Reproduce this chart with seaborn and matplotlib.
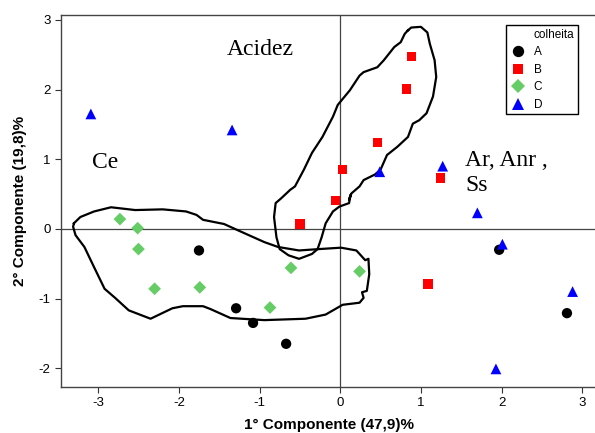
import pandas as pd
import matplotlib
matplotlib.use('Agg')
import matplotlib.pyplot as plt
from matplotlib.lines import Line2D
import seaborn as sns

# scores dos dois primeiros componentes, por colheita
colheita_A_x = [-1.75, -1.29, -1.08, -0.67, 1.97, 2.81]
colheita_A_y = [-0.31, -1.14, -1.35, -1.65, -0.30, -1.21]
colheita_B_x = [0.88, 0.82, 0.46, 0.03, 1.24, -0.06, -0.50, 1.09]
colheita_B_y = [2.47, 2.01, 1.24, 0.85, 0.73, 0.41, 0.07, -0.79]
colheita_C_x = [-2.73, -2.51, -2.50, -2.30, -1.74, -0.61, -0.87, 0.24]
colheita_C_y = [0.14, 0.01, -0.29, -0.86, -0.84, -0.56, -1.13, -0.61]
colheita_D_x = [-3.09, -1.34, 0.49, 1.27, 1.70, 2.01, 2.88, 1.93]
colheita_D_y = [1.65, 1.42, 0.82, 0.90, 0.23, -0.22, -0.90, -2.01]

# contornos desenhados a mao (coordenadas dos componentes)
contorno_acidez_x = [0.84, 0.88, 1.00, 1.08, 1.11, 1.17, 1.19, 1.15, 1.07, 0.98, 0.90, 0.84,
                     0.71, 0.58, 0.50, 0.43, 0.29, 0.24, 0.14, 0.11, 0.13, 0.11, -0.01, -0.09,
                     -0.18, -0.23, -0.28, -0.35, -0.51, -0.64, -0.75, -0.79, -0.82, -0.80,
                     -0.73, -0.62, -0.56, -0.45, -0.35, -0.22, -0.09, -0.03, 0.12, 0.24, 0.29,
                     0.46, 0.54, 0.67, 0.75, 0.80, 0.84]
contorno_acidez_y = [2.85, 2.89, 2.90, 2.82, 2.66, 2.42, 2.18, 1.90, 1.66, 1.56, 1.51, 1.32,
                     1.18, 1.06, 0.85, 0.78, 0.70, 0.61, 0.51, 0.42, 0.49, 0.37, 0.32, 0.25,
                     0.08, -0.12, -0.29, -0.36, -0.43, -0.38, -0.29, -0.12, 0.17, 0.37,
                     0.44, 0.56, 0.61, 0.85, 1.09, 1.32, 1.61, 1.78, 1.99, 2.20, 2.25,
                     2.32, 2.42, 2.61, 2.68, 2.80, 2.85]
contorno_ce_x = [-3.30, -3.22, -3.05, -2.84, -2.54, -2.20, -1.91, -1.78, -1.70, -1.44, -1.23,
                 -0.94, -0.77, -0.51, -0.26, 0.01, 0.20, 0.24, 0.31, 0.35, 0.36, 0.33, 0.27,
                 0.29, 0.24, 0.03, -0.18, -0.43, -0.94, -1.36, -1.61, -1.70, -1.95, -2.08,
                 -2.35, -2.62, -2.79, -2.92, -3.05, -3.17, -3.28, -3.31, -3.30]
contorno_ce_y = [0.08, 0.17, 0.25, 0.31, 0.27, 0.28, 0.25, 0.20, 0.13, 0.07, -0.04,
                 -0.19, -0.26, -0.31, -0.29, -0.27, -0.31, -0.36, -0.45, -0.43, -0.65, -0.89, -0.91,
                 -0.99, -1.06, -1.09, -1.23, -1.29, -1.31, -1.28, -1.15, -1.11, -1.11, -1.14,
                 -1.29, -1.17, -0.99, -0.86, -0.55, -0.26, -0.09, 0.03, 0.08]

colheitas = ['A', 'B', 'C', 'D']
cores = {'A': '#000000', 'B': '#ff0000', 'C': '#66cc66', 'D': '#0000ff'}
marcadores = {'A': 'o', 'B': 's', 'C': 'D', 'D': '^'}
tamanhos = {'A': 55, 'B': 45, 'C': 42, 'D': 60}

df = pd.concat([
    pd.DataFrame({'x': colheita_A_x, 'y': colheita_A_y, 'colheita': 'A'}),
    pd.DataFrame({'x': colheita_B_x, 'y': colheita_B_y, 'colheita': 'B'}),
    pd.DataFrame({'x': colheita_C_x, 'y': colheita_C_y, 'colheita': 'C'}),
    pd.DataFrame({'x': colheita_D_x, 'y': colheita_D_y, 'colheita': 'D'}),
], ignore_index=True)

plt.rcParams['font.family'] = ['Liberation Sans', 'DejaVu Sans']
plt.rcParams['axes.unicode_minus'] = False

fig = plt.figure(figsize=(5.95, 4.33), dpi=100)
ax = fig.add_axes([61 / 595, 1 - 387 / 433, 535 / 595, 372 / 433])

ax.axhline(0, color='#444444', lw=0.9, zorder=1)
ax.axvline(0, color='#444444', lw=0.9, zorder=1)

ax.plot(contorno_acidez_x, contorno_acidez_y, color='black', lw=1.6, zorder=2)
ax.plot(contorno_ce_x, contorno_ce_y, color='black', lw=1.6, zorder=2)

sns.scatterplot(data=df, x='x', y='y', hue='colheita', style='colheita', size='colheita',
                hue_order=colheitas, style_order=colheitas, size_order=colheitas,
                palette=cores, markers=marcadores, sizes=tamanhos, linewidth=0,
                ax=ax, zorder=3)

ax.set_xlim(-3.46, 3.17)
ax.set_ylim(-2.27, 3.07)
ax.set_xticks([-3, -2, -1, 0, 1, 2, 3])
ax.set_yticks([-2, -1, 0, 1, 2, 3])
ax.tick_params(labelsize=9.5, length=4, width=0.8, colors='#333333', labelcolor='black')
for sp in ax.spines.values():
    sp.set_color('#444444')
    sp.set_linewidth(1)

ax.set_xlabel('1° Componente (47,9)%', fontsize=11, fontweight='bold', labelpad=6)
ax.set_ylabel('2° Componente (19,8)%', fontsize=11, fontweight='bold', labelpad=8)

serif = ['Liberation Serif', 'DejaVu Serif']
ax.text(-1.41, 2.58, 'Acidez', family=serif, fontsize=17, va='center', ha='left')
ax.text(-3.08, 0.95, 'Ce', family=serif, fontsize=17, va='center', ha='left')
ax.text(1.55, 0.80, 'Ar, Anr ,\nSs', family=serif, fontsize=17, va='center', ha='left',
        linespacing=1.25)

# titulo da legenda alinhado com os rotulos, como no original
handles, labels = ax.get_legend_handles_labels()
vazio = Line2D([], [], linestyle='none', marker=None)
leg = ax.legend(handles=[vazio] + handles, labels=['colheita'] + labels,
                loc='upper right', bbox_to_anchor=(0.966, 0.973),
                borderaxespad=0, fontsize=8.5, fancybox=False,
                edgecolor='black', framealpha=1, handlelength=1.5, handletextpad=0.55,
                labelspacing=0.47, borderpad=0.3, markerscale=1.1)
leg.get_frame().set_linewidth(1)

fig.savefig('out.png', dpi=100)
